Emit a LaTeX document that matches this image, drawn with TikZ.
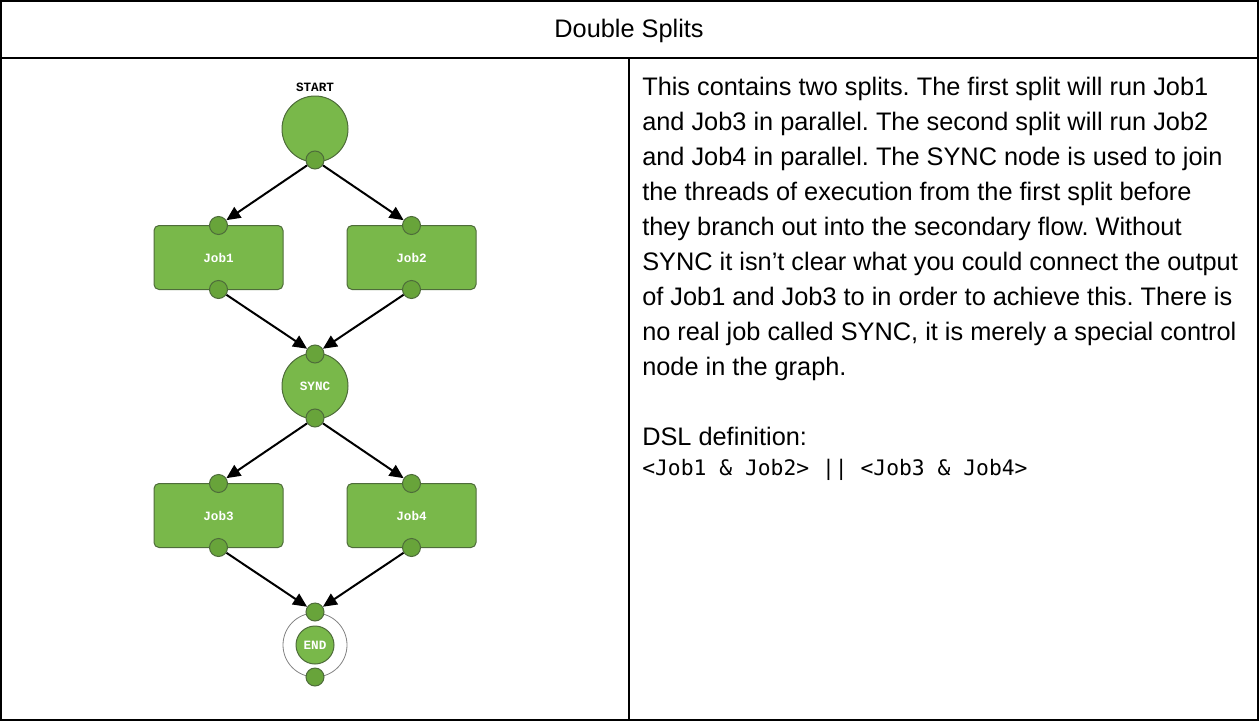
\documentclass[tikz,border=0pt]{standalone}
\usepackage{fontspec}
\setmainfont{Liberation Sans}
\newfontfamily\dslmono{DejaVu Sans Mono}
\newfontfamily\lblfont{Liberation Mono}
\usetikzlibrary{arrows.meta}
\frenchspacing
\definecolor{nodefill}{RGB}{121,184,74}
\definecolor{portfill}{RGB}{104,164,58}
\definecolor{borderc}{RGB}{78,108,58}
\definecolor{endring}{RGB}{130,130,130}
\tikzset{
  job/.style={rectangle, rounded corners=3.75pt, draw=borderc, fill=nodefill,
    minimum width=96.75pt, minimum height=48pt, line width=0.75pt, text=white,
    font=\lblfont\bfseries\fontsize{9.5}{9.5}\selectfont},
  bigcirc/.style={circle, draw=borderc, fill=nodefill, minimum size=49.5pt,
    inner sep=0pt, line width=0.75pt, text=white,
    font=\lblfont\bfseries\fontsize{9.5}{9.5}\selectfont},
  port/.style={circle, draw=borderc, fill=portfill, minimum size=13.5pt,
    inner sep=0pt, line width=0.75pt},
  flow/.style={-{Triangle[length=10.5pt,width=9.5pt]}, line width=1.5pt, black},
  body/.style={anchor=base west, inner sep=0pt, font=\fontsize{19}{26.25}\selectfont},
  frame/.style={line width=1.5pt, black}
}
\begin{document}
\begin{tikzpicture}[x=0.75pt,y=-0.75pt]
\useasboundingbox (0,0) rectangle (1259,721);
% table
\draw[frame] (1,1) rectangle (1258,720);
\draw[frame] (1,58) -- (1258,58);
\draw[frame] (629,58) -- (629,720);
\node[anchor=base, inner sep=0pt, font=\fontsize{19}{22}\selectfont] (title) at (629,37) {Double Splits};
% diagram
\node[inner sep=0pt, font=\lblfont\bfseries\fontsize{9.5}{9.5}\selectfont] (startlbl) at (315,87) {START};
\node[bigcirc] (start) at (315,129) {};
\node[port] (sp) at (315,160) {};
\node[job] (job1) at (218.5,257.5) {Job1};
\node[job] (job2) at (411.5,257.5) {Job2};
\node[port] (j1t) at (218.5,225.5) {};
\node[port] (j1b) at (218.5,289.5) {};
\node[port] (j2t) at (411.5,225.5) {};
\node[port] (j2b) at (411.5,289.5) {};
\node[bigcirc] (sync) at (315,386) {SYNC};
\node[port] (syt) at (315,354) {};
\node[port] (syb) at (315,418) {};
\node[job] (job3) at (218.5,515.5) {Job3};
\node[job] (job4) at (411.5,515.5) {Job4};
\node[port] (j3t) at (218.5,483.5) {};
\node[port] (j3b) at (218.5,547.5) {};
\node[port] (j4t) at (411.5,483.5) {};
\node[port] (j4b) at (411.5,547.5) {};
\node[circle, draw=endring, fill=white, minimum size=48pt, inner sep=0pt, line width=0.6pt] (endring) at (315,645) {};
\node[bigcirc, minimum size=28.5pt] (end) at (315,645) {END};
\node[port] (ent) at (315,612) {};
\node[port] (enb) at (315,677) {};
% connectors
\draw[flow] (sp) -- (j1t);
\draw[flow] (sp) -- (j2t);
\draw[flow] (j1b) -- (syt);
\draw[flow] (j2b) -- (syt);
\draw[flow] (syb) -- (j3t);
\draw[flow] (syb) -- (j4t);
\draw[flow] (j3b) -- (ent);
\draw[flow] (j4b) -- (ent);
% text
\node[body] (t1) at (642,95) {This contains two splits. The first split will run Job1};
\node[body] (t2) at (642,130) {and Job3 in parallel. The second split will run Job2};
\node[body] (t3) at (642,165) {and Job4 in parallel. The SYNC node is used to join};
\node[body] (t4) at (642,200) {the threads of execution from the first split before};
\node[body] (t5) at (642,235) {they branch out into the secondary flow. Without};
\node[body] (t6) at (642,270) {SYNC it isn’t clear what you could connect the output};
\node[body] (t7) at (642,305) {of Job1 and Job3 to in order to achieve this. There is};
\node[body] (t8) at (642,340) {no real job called SYNC, it is merely a special control};
\node[body] (t9) at (642,375) {node in the graph.};
\node[body] (dsl) at (642,445) {DSL definition:};
\node[anchor=base west, inner sep=0pt, font=\dslmono\fontsize{16}{16}\selectfont] (dslcode) at (642,475) {<Job1 \& Job2> || <Job3 \& Job4>};
\end{tikzpicture}
\end{document}
